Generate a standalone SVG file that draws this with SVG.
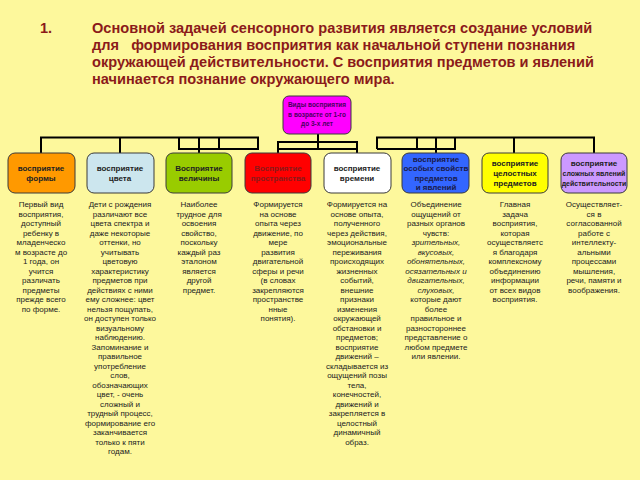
<svg xmlns="http://www.w3.org/2000/svg" width="640" height="480" viewBox="0 0 640 480">
<style>
.t{font-family:"Liberation Sans",Arial,sans-serif;font-weight:bold;font-size:14.6px;fill:#8b1a1a}
.b{stroke:#3a3a3a;stroke-width:1}
.bl{font-family:"Liberation Sans",Arial,sans-serif;font-weight:bold;font-size:8px;text-anchor:middle;fill:#222}
.d{font-family:"Liberation Sans",Arial,sans-serif;font-size:8px;text-anchor:middle;fill:#222}
.c{stroke:#000;stroke-width:2;fill:none}
</style>
<rect width="640" height="480" fill="#fdf89c"/>
<g id="title">
<text class="t" x="40" y="33">1.</text>
<text class="t" x="92" y="33">Основной задачей сенсорного развития является создание условий</text>
<text class="t" x="92" y="50" xml:space="preserve">для   формирования восприятия как начальной ступени познания</text>
<text class="t" x="92" y="67">окружающей действительности. С восприятия предметов и явлений</text>
<text class="t" x="92" y="84">начинается познание окружающего мира.</text>
</g>
<g id="connectors" class="c">
<path d="M41,153 V137.5 H258 V149 H179 V137.5 M199,137.5 V153 M219,137.5 V149 M120,137.5 V153"/>
<path d="M318,134 V149 M278,153 V142 H357 V153 M278,149 H357"/>
<path d="M436,153 V137.5 M377,149 V137.5 H594 V153 M514,137.5 V153 M377,149 H455 V137.5 M417,137.5 V149"/>
</g>
<g id="root">
<rect x="283" y="96" width="68" height="38" rx="6" fill="#ff00ff" class="b"/>
<text class="bl" style="font-size:6.5px;fill:#4a0060" x="317" y="107">Виды восприятия</text>
<text class="bl" style="font-size:6.5px;fill:#4a0060" x="317" y="117">в возрасте от 1-го</text>
<text class="bl" style="font-size:6.5px;fill:#4a0060" x="317" y="126">до 3-х лет</text>
</g>
<g id="n1"><rect x="8" y="153" width="67" height="40" rx="7" fill="#ff9900" class="b"/>
<text class="bl" x="41" y="171">восприятие</text><text class="bl" x="41" y="181">формы</text></g>
<g id="n2"><rect x="87" y="153" width="67" height="40" rx="7" fill="#cce6ee" class="b"/>
<text class="bl" x="120" y="171">восприятие</text><text class="bl" x="120" y="181">цвета</text></g>
<g id="n3"><rect x="166" y="153" width="66" height="40" rx="7" fill="#99cc00" class="b"/>
<text class="bl" x="199" y="171">Восприятие</text><text class="bl" x="199" y="181">величины</text></g>
<g id="n4"><rect x="245" y="153" width="66" height="40" rx="7" fill="#ff0000" class="b"/>
<text class="bl" style="fill:#8b1a1a" x="278" y="171">Восприятие</text><text class="bl" style="fill:#8b1a1a" x="278" y="181">пространства</text></g>
<g id="n5"><rect x="324" y="153" width="67" height="40" rx="7" fill="#ffffff" class="b"/>
<text class="bl" x="357" y="171">восприятие</text><text class="bl" x="357" y="181">времени</text></g>
<g id="n6"><rect x="402" y="153" width="67" height="40" rx="7" fill="#3366ff" class="b"/>
<text class="bl" style="fill:#1a1a4a" x="436" y="162">восприятие</text><text class="bl" style="fill:#1a1a4a" x="436" y="171">особых свойств</text><text class="bl" style="fill:#1a1a4a" x="436" y="181">предметов</text><text class="bl" style="fill:#1a1a4a" x="436" y="190">и явлений</text></g>
<g id="n7"><rect x="482" y="153" width="66" height="40" rx="7" fill="#ffff00" class="b"/>
<text class="bl" x="515" y="166">восприятие</text><text class="bl" x="515" y="176">целостных</text><text class="bl" x="515" y="186">предметов</text></g>
<g id="n8"><rect x="561" y="153" width="66" height="40" rx="7" fill="#cc99ff" class="b"/>
<text class="bl" x="594" y="166">восприятие</text><text class="bl" style="font-size:7px" x="594" y="176">сложных явлений</text><text class="bl" style="font-size:7px" x="594" y="186">действительности</text></g>
<g id="desc1" class="d"><text x="41" y="207">Первый вид<tspan x="41" dy="9.5">восприятия,</tspan><tspan x="41" dy="9.5">доступный</tspan><tspan x="41" dy="9.5">ребенку в</tspan><tspan x="41" dy="9.5">младенческо</tspan><tspan x="41" dy="9.5">м возрасте до</tspan><tspan x="41" dy="9.5">1 года, он</tspan><tspan x="41" dy="9.5">учится</tspan><tspan x="41" dy="9.5">различать</tspan><tspan x="41" dy="9.5">предметы</tspan><tspan x="41" dy="9.5">прежде всего</tspan><tspan x="41" dy="9.5">по форме.</tspan></text></g>
<g id="desc2" class="d"><text x="120" y="207">Дети с рождения<tspan x="120" dy="9.5">различают все</tspan><tspan x="120" dy="9.5">цвета спектра и</tspan><tspan x="120" dy="9.5">даже некоторые</tspan><tspan x="120" dy="9.5">оттенки, но</tspan><tspan x="120" dy="9.5">учитывать</tspan><tspan x="120" dy="9.5">цветовую</tspan><tspan x="120" dy="9.5">характеристику</tspan><tspan x="120" dy="9.5">предметов при</tspan><tspan x="120" dy="9.5">действиях с ними</tspan><tspan x="120" dy="9.5">ему сложнее: цвет</tspan><tspan x="120" dy="9.5">нельзя пощупать,</tspan><tspan x="120" dy="9.5">он доступен только</tspan><tspan x="120" dy="9.5">визуальному</tspan><tspan x="120" dy="9.5">наблюдению.</tspan><tspan x="120" dy="9.5">Запоминание и</tspan><tspan x="120" dy="9.5">правильное</tspan><tspan x="120" dy="9.5">употребление</tspan><tspan x="120" dy="9.5">слов,</tspan><tspan x="120" dy="9.5">обозначающих</tspan><tspan x="120" dy="9.5">цвет, - очень</tspan><tspan x="120" dy="9.5">сложный и</tspan><tspan x="120" dy="9.5">трудный процесс,</tspan><tspan x="120" dy="9.5">формирование его</tspan><tspan x="120" dy="9.5">заканчивается</tspan><tspan x="120" dy="9.5">только к пяти</tspan><tspan x="120" dy="9.5">годам.</tspan></text></g>
<g id="desc3" class="d"><text x="199" y="207">Наиболее<tspan x="199" dy="9.5">трудное для</tspan><tspan x="199" dy="9.5">освоения</tspan><tspan x="199" dy="9.5">свойство,</tspan><tspan x="199" dy="9.5">поскольку</tspan><tspan x="199" dy="9.5">каждый раз</tspan><tspan x="199" dy="9.5">эталоном</tspan><tspan x="199" dy="9.5">является</tspan><tspan x="199" dy="9.5">другой</tspan><tspan x="199" dy="9.5">предмет.</tspan></text></g>
<g id="desc4" class="d"><text x="278" y="207">Формируется<tspan x="278" dy="9.5">на основе</tspan><tspan x="278" dy="9.5">опыта через</tspan><tspan x="278" dy="9.5">движение, по</tspan><tspan x="278" dy="9.5">мере</tspan><tspan x="278" dy="9.5">развития</tspan><tspan x="278" dy="9.5">двигательной</tspan><tspan x="278" dy="9.5">сферы и речи</tspan><tspan x="278" dy="9.5">(в словах</tspan><tspan x="278" dy="9.5">закрепляются</tspan><tspan x="278" dy="9.5">пространстве</tspan><tspan x="278" dy="9.5">нные</tspan><tspan x="278" dy="9.5">понятия).</tspan></text></g>
<g id="desc5" class="d"><text x="357" y="207">Формируется на<tspan x="357" dy="9.5">основе опыта,</tspan><tspan x="357" dy="9.5">полученного</tspan><tspan x="357" dy="9.5">через действия,</tspan><tspan x="357" dy="9.5">эмоциональные</tspan><tspan x="357" dy="9.5">переживания</tspan><tspan x="357" dy="9.5">происходящих</tspan><tspan x="357" dy="9.5">жизненных</tspan><tspan x="357" dy="9.5">событий,</tspan><tspan x="357" dy="9.5">внешние</tspan><tspan x="357" dy="9.5">признаки</tspan><tspan x="357" dy="9.5">изменения</tspan><tspan x="357" dy="9.5">окружающей</tspan><tspan x="357" dy="9.5">обстановки и</tspan><tspan x="357" dy="9.5">предметов;</tspan><tspan x="357" dy="9.5">восприятие</tspan><tspan x="357" dy="9.5">движений –</tspan><tspan x="357" dy="9.5">складывается из</tspan><tspan x="357" dy="9.5">ощущений позы</tspan><tspan x="357" dy="9.5">тела,</tspan><tspan x="357" dy="9.5">конечностей,</tspan><tspan x="357" dy="9.5">движений и</tspan><tspan x="357" dy="9.5">закрепляется в</tspan><tspan x="357" dy="9.5">целостный</tspan><tspan x="357" dy="9.5">динамичный</tspan><tspan x="357" dy="9.5">образ.</tspan></text></g>
<g id="desc6" class="d"><text x="436" y="207">Объединение<tspan x="436" dy="9.5">ощущений от</tspan><tspan x="436" dy="9.5">разных органов</tspan><tspan x="436" dy="9.5">чувств:</tspan><tspan x="436" dy="9.5" font-style="italic">зрительных,</tspan><tspan x="436" dy="9.5" font-style="italic">вкусовых,</tspan><tspan x="436" dy="9.5" font-style="italic">обонятельных,</tspan><tspan x="436" dy="9.5" font-style="italic">осязательных и</tspan><tspan x="436" dy="9.5" font-style="italic">двигательных,</tspan><tspan x="436" dy="9.5" font-style="italic">слуховых,</tspan><tspan x="436" dy="9.5">которые дают</tspan><tspan x="436" dy="9.5">более</tspan><tspan x="436" dy="9.5">правильное и</tspan><tspan x="436" dy="9.5">разностороннее</tspan><tspan x="436" dy="9.5">представление о</tspan><tspan x="436" dy="9.5">любом предмете</tspan><tspan x="436" dy="9.5">или явлении.</tspan></text></g>
<g id="desc7" class="d"><text x="515" y="207">Главная<tspan x="515" dy="9.5">задача</tspan><tspan x="515" dy="9.5">восприятия,</tspan><tspan x="515" dy="9.5">которая</tspan><tspan x="515" dy="9.5">осуществляетс</tspan><tspan x="515" dy="9.5">я благодаря</tspan><tspan x="515" dy="9.5">комплексному</tspan><tspan x="515" dy="9.5">объединению</tspan><tspan x="515" dy="9.5">информации</tspan><tspan x="515" dy="9.5">от всех видов</tspan><tspan x="515" dy="9.5">восприятия.</tspan></text></g>
<g id="desc8" class="d"><text x="594" y="207">Осуществляет-<tspan x="594" dy="9.5">ся в</tspan><tspan x="594" dy="9.5">согласованной</tspan><tspan x="594" dy="9.5">работе с</tspan><tspan x="594" dy="9.5">интеллекту-</tspan><tspan x="594" dy="9.5">альными</tspan><tspan x="594" dy="9.5">процессами</tspan><tspan x="594" dy="9.5">мышления,</tspan><tspan x="594" dy="9.5">речи, памяти и</tspan><tspan x="594" dy="9.5">воображения.</tspan></text></g>
</svg>
